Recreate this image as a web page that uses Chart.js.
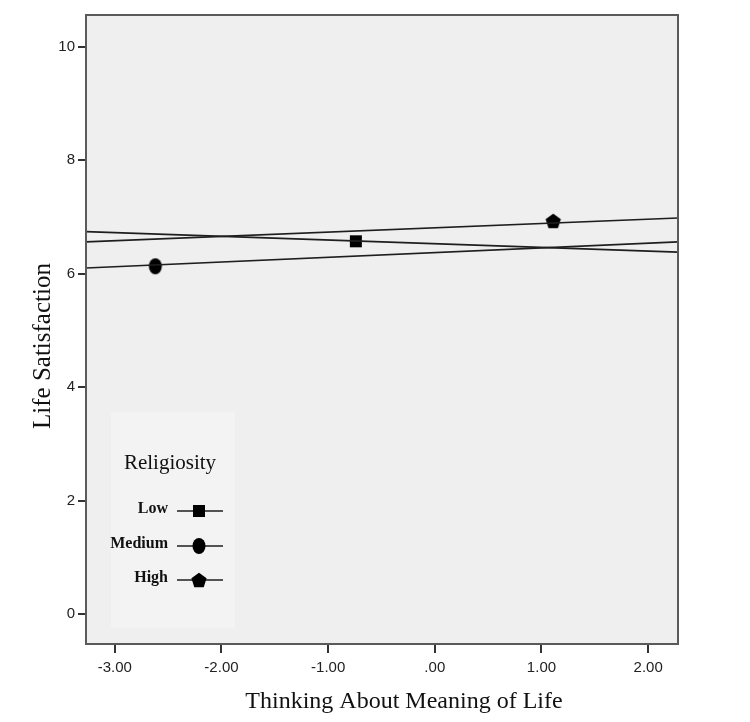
<!DOCTYPE html>
<html>
<head>
<meta charset="utf-8">
<script src="https://cdn.jsdelivr.net/npm/chart.js@4.4.0/dist/chart.umd.min.js"></script>
<style>
  body { margin: 0; background: #ffffff; }
  #wrap { width: 750px; height: 722px; }
</style>
</head>
<body>
<div id="wrap"><canvas id="myChart" width="750" height="722"></canvas></div>
<script>
// values
const groups = ['Low', 'Medium', 'High'];
const xRange = [-3.27, 2.28];
const yRange = [-0.53, 10.56];
const xTicks = [-3, -2, -1, 0, 1, 2];
const yTicks = [0, 2, 4, 6, 8, 10];
// regression line values at the left and right end of the x range
const lowLine = [6.74, 6.38];
const mediumLine = [6.10, 6.56];
const highLine = [6.56, 6.98];
// one marker per group
const markerX = [-0.74, -2.62, 1.11];
const markerY = [6.57, 6.13, 6.93];

const lineValues = [lowLine, mediumLine, highLine];

// marker images
function makeMarker(kind) {
    const c = document.createElement('canvas');
    c.width = 18; c.height = 18;
    const g = c.getContext('2d');
    g.fillStyle = '#000';
    g.beginPath();
    if (kind === 'square') {
        g.rect(3, 3, 12, 12);
    } else if (kind === 'ellipse') {
        g.ellipse(9, 9, 6.5, 8, 0, 0, Math.PI * 2);
    } else {
        for (let i = 0; i < 5; i++) {
            const a = -Math.PI / 2 + i * 2 * Math.PI / 5;
            const px = 9 + 8 * Math.cos(a), py = 9.8 + 8 * Math.sin(a);
            if (i === 0) g.moveTo(px, py); else g.lineTo(px, py);
        }
        g.closePath();
    }
    g.fill();
    return c;
}
const markers = [makeMarker('square'), makeMarker('ellipse'), makeMarker('pentagon')];

const datasets = [];
groups.forEach((name, i) => {
    datasets.push({
        label: name + ' line',
        data: xRange.map((x, k) => ({ x: x, y: lineValues[i][k] })),
        showLine: true,
        borderColor: '#1e1e1e',
        borderWidth: 1.6,
        pointRadius: 0,
        pointHoverRadius: 0
    });
});
groups.forEach((name, i) => {
    datasets.push({
        label: name,
        data: [{ x: markerX[i], y: markerY[i] }],
        showLine: false,
        pointStyle: markers[i],
        pointRadius: 9,
        pointHoverRadius: 9
    });
});

const framePlugin = {
    id: 'frame',
    beforeDraw(chart) {
        const { ctx, chartArea: a } = chart;
        ctx.save();
        ctx.fillStyle = '#efefef';
        ctx.fillRect(a.left, a.top, a.right - a.left, a.bottom - a.top);
        // legend box
        ctx.fillStyle = '#f3f3f3';
        ctx.fillRect(111, 412, 124, 216);
        ctx.restore();
    },
    afterDraw(chart) {
        const { ctx, chartArea: a } = chart;
        ctx.save();
        ctx.strokeStyle = '#5a5a5a';
        ctx.lineWidth = 2;
        ctx.strokeRect(a.left, a.top, a.right - a.left, a.bottom - a.top);

        // axis titles
        ctx.fillStyle = '#111';
        ctx.textAlign = 'center';
        ctx.textBaseline = 'middle';
        ctx.font = '24px "Liberation Serif", "Times New Roman", serif';
        ctx.fillText('Thinking About Meaning of Life', 404, 702);
        ctx.font = '25px "Liberation Serif", "Times New Roman", serif';
        ctx.translate(43, 346);
        ctx.rotate(-Math.PI / 2);
        ctx.fillText('Life Satisfaction', 0, 0);
        ctx.restore();

        // legend
        ctx.save();
        ctx.fillStyle = '#111';
        ctx.textBaseline = 'middle';
        ctx.textAlign = 'center';
        ctx.font = '21px "Liberation Serif", "Times New Roman", serif';
        ctx.fillText('Religiosity', 170, 463);
        ctx.font = 'bold 16px "Liberation Serif", "Times New Roman", serif';
        const rowsY = [509, 544, 578];
        groups.forEach((name, i) => {
            const y = rowsY[i];
            ctx.textAlign = 'right';
            ctx.fillText(name, 168, y);
            ctx.strokeStyle = '#1e1e1e';
            ctx.lineWidth = 1.6;
            ctx.beginPath();
            ctx.moveTo(177, y + 2);
            ctx.lineTo(223, y + 2);
            ctx.stroke();
            ctx.drawImage(markers[i], 199 - 9, y + 2 - 9);
        });
        ctx.restore();
    }
};

function fmtX(v) {
    const s = Math.abs(v).toFixed(2);
    const t = v === 0 ? s.replace(/^0/, '') : s;
    return (v < 0 ? '-' : '') + t;
}

const ctx = document.getElementById('myChart').getContext('2d');
const myChart = new Chart(ctx, {
    type: 'scatter',
    data: { datasets: datasets },
    options: {
        responsive: false,
        animation: false,
        layout: { padding: { top: 15, right: 72, left: 0, bottom: 0 } },
        plugins: {
            legend: { display: false },
            tooltip: { enabled: false }
        },
        scales: {
            x: {
                type: 'linear',
                min: xRange[0],
                max: xRange[1],
                afterBuildTicks: (s) => { s.ticks = xTicks.map(v => ({ value: v })); },
                afterFit: (s) => { s.height = 78; },
                grid: { drawOnChartArea: false, drawTicks: true, tickLength: 9, tickColor: '#333', lineWidth: 2 },
                border: { display: true, color: '#5a5a5a', width: 2 },
                ticks: {
                    callback: (v) => fmtX(v),
                    color: '#222',
                    padding: 6,
                    maxRotation: 0,
                    autoSkip: false,
                    font: { family: '"Liberation Sans", Arial, sans-serif', size: 15 }
                }
            },
            y: {
                type: 'linear',
                min: yRange[0],
                max: yRange[1],
                afterBuildTicks: (s) => { s.ticks = yTicks.map(v => ({ value: v })); },
                afterFit: (s) => { s.width = 86; },
                grid: { drawOnChartArea: false, drawTicks: true, tickLength: 8, tickColor: '#333', lineWidth: 2 },
                border: { display: true, color: '#5a5a5a', width: 2 },
                ticks: {
                    color: '#222',
                    padding: 3,
                    autoSkip: false,
                    font: { family: '"Liberation Sans", Arial, sans-serif', size: 15 }
                }
            }
        }
    },
    plugins: [framePlugin]
});
</script>
</body>
</html>
